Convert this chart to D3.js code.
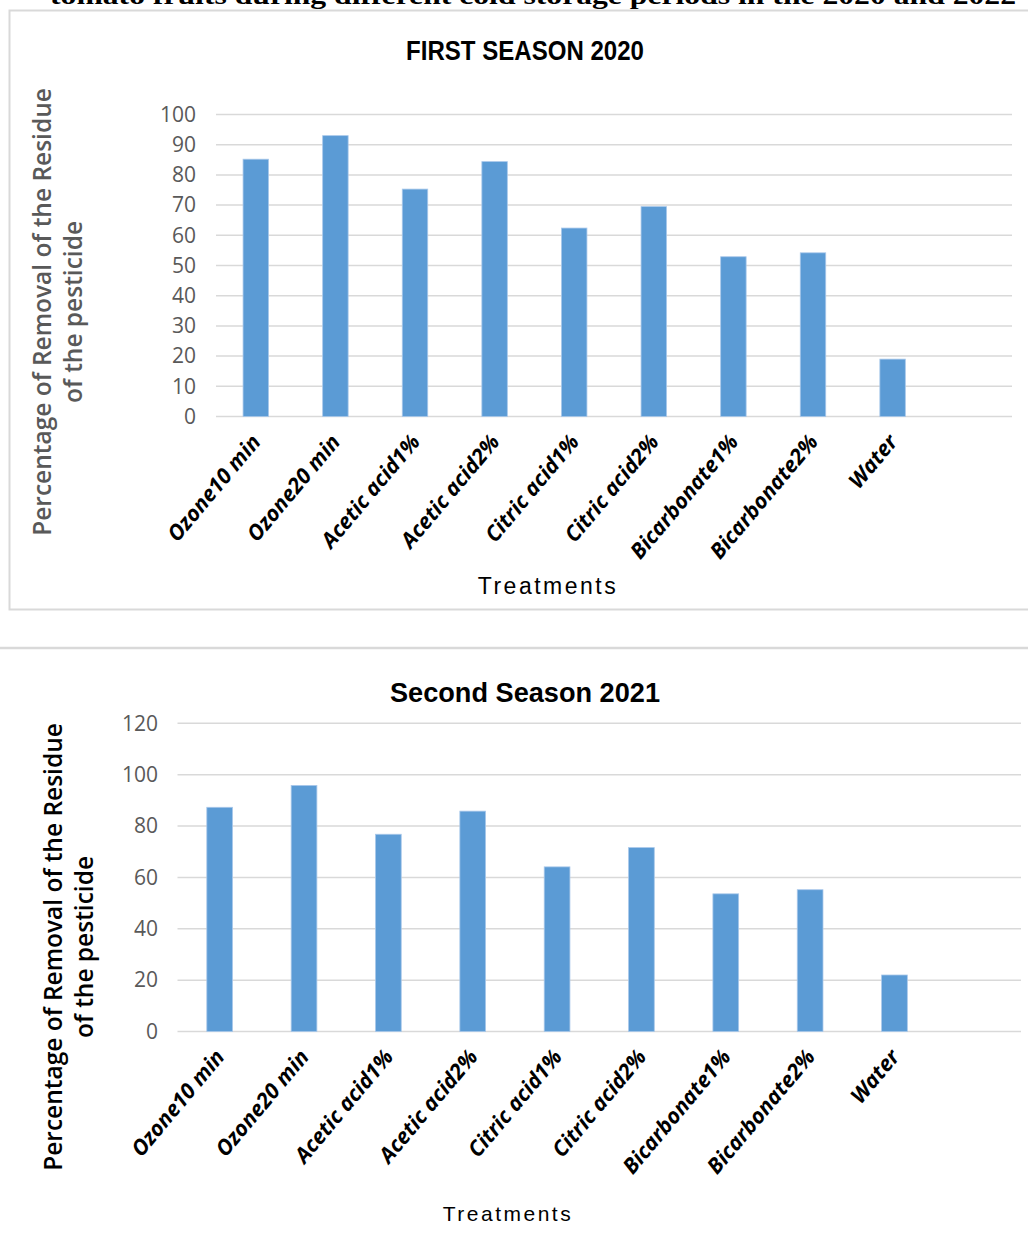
<!DOCTYPE html>
<html>
<head>
<meta charset="utf-8">
<script src="https://cdn.jsdelivr.net/npm/d3@7"></script>
<style>
  body { margin: 0; background: #fff; }
  svg { display: block; }
</style>
</head>
<body>
<svg id="chart" width="1028" height="1238"></svg>
<script>
// treatments (last empty slot is the blank category Excel left in the range)
const treatments = ["Ozone10 min", "Ozone20 min", "Acetic acid1%", "Acetic acid2%",
  "Citric acid1%", "Citric acid2%", "Bicarbonate1%", "Bicarbonate2%", "Water", ""];
const season2020 = [85.2, 93.0, 75.3, 84.4, 62.4, 69.5, 52.9, 54.2, 19.0];
const season2021 = [87.3, 95.8, 76.8, 85.8, 64.1, 71.6, 53.6, 55.2, 22.0];
const ticks2020 = [0, 10, 20, 30, 40, 50, 60, 70, 80, 90, 100];
const ticks2021 = [0, 20, 40, 60, 80, 100, 120];

const svg = d3.select("#chart");
const barColor = "#5b9bd5";
const gridColor = "#d9d9d9";

// caption cut off at top of the page
svg.append("text")
  .attr("x", 50).attr("y", 4)
  .attr("textLength", 966).attr("lengthAdjust", "spacingAndGlyphs")
  .style("font-family", "'Liberation Serif', 'Times New Roman', serif")
  .style("font-weight", "bold").style("font-size", "26px")
  .text("tomato fruits during different cold storage periods in the 2020 and 2022");

// frame around first chart + separator above second
svg.append("rect")
  .attr("x", 9.5).attr("y", 10.5).attr("width", 1030).attr("height", 599)
  .attr("fill", "none").attr("stroke", gridColor).attr("stroke-width", 2);
svg.append("line")
  .attr("x1", 0).attr("x2", 1028).attr("y1", 648).attr("y2", 648)
  .attr("stroke", gridColor).attr("stroke-width", 2.5);

function drawChart(cfg) {
  const g = svg.append("g");
  const x = d3.scaleBand().domain(treatments).range([cfg.left, cfg.right]);
  const y = d3.scaleLinear().domain([0, cfg.max]).range([cfg.bottom, cfg.top]);

  // gridlines
  g.selectAll("line.grid")
    .data(cfg.ticks)
    .join("line")
    .attr("class", "grid")
    .attr("x1", cfg.left).attr("x2", cfg.right)
    .attr("y1", d => y(d)).attr("y2", d => y(d))
    .attr("stroke", gridColor).attr("stroke-width", 1.5);

  // y axis labels
  const yAxis = d3.axisLeft(y).tickValues(cfg.ticks).tickSize(0).tickPadding(0);
  const ya = g.append("g")
    .attr("transform", `translate(${cfg.tickX},0)`)
    .call(yAxis);
  ya.select(".domain").remove();
  ya.selectAll("text")
    .attr("fill", "#595959")
    .style("font-family", "'Open Sans', sans-serif")
    .style("font-size", "21px");

  // bars
  const bw = x.bandwidth() * cfg.barFrac;
  g.selectAll("rect.bar")
    .data(cfg.values)
    .join("rect")
    .attr("class", "bar")
    .attr("x", (d, i) => x(treatments[i]) + (x.bandwidth() - bw) / 2)
    .attr("width", bw)
    .attr("y", d => y(d))
    .attr("height", d => y(0) - y(d))
    .attr("fill", barColor)
    .attr("stroke", "#a9c8ea").attr("stroke-width", 0.8);

  // category labels, rotated
  g.selectAll("text.cat")
    .data(treatments.filter(t => t !== ""))
    .join("text")
    .attr("class", "cat")
    .attr("text-anchor", "end")
    .attr("transform", d => `translate(${x(d) + x.bandwidth() / 2 + 6},${cfg.bottom + 26}) rotate(-50)`)
    .style("font-family", "'Open Sans', sans-serif")
    .style("font-weight", "bold").style("font-style", "italic")
    .style("font-size", "21.5px")
    .text(d => d);

  // title
  g.append("text")
    .attr("x", cfg.titleX).attr("y", cfg.titleY)
    .attr("text-anchor", "middle")
    .attr("textLength", cfg.titleW).attr("lengthAdjust", "spacingAndGlyphs")
    .style("font-family", "'Liberation Sans Narrow', 'Arial Narrow', sans-serif")
    .style("font-weight", "bold").style("font-size", "27px")
    .text(cfg.title);

  // x axis title
  g.append("text")
    .attr("x", cfg.xTitleX).attr("y", cfg.xTitleY)
    .attr("text-anchor", "middle")
    .style("font-family", "'Liberation Sans', Arial, sans-serif")
    .style("font-size", cfg.xTitleSize).style("letter-spacing", "2.5px")
    .text("Treatments");

  // y axis title, two lines
  const yt = g.append("text")
    .attr("transform", `translate(${cfg.yTitleX},${cfg.yTitleY}) rotate(-90)`)
    .attr("text-anchor", "middle")
    .attr("fill", cfg.yTitleColor)
    .style("font-family", "'Open Sans', sans-serif")
    .style("font-weight", "600").style("font-size", "24.5px");
  yt.append("tspan").attr("x", 0).attr("dy", 0).text("Percentage of Removal of the Residue");
  yt.append("tspan").attr("x", 0).attr("dy", 31).text("of the pesticide");
}

drawChart({
  values: season2020, ticks: ticks2020, max: 100,
  left: 216, right: 1012, top: 114.5, bottom: 416.5, barFrac: 0.32,
  tickX: 196, title: "FIRST SEASON 2020", titleX: 525, titleY: 60, titleW: 238,
  xTitleX: 548, xTitleY: 594, xTitleSize: "23px",
  yTitleX: 51, yTitleY: 312, yTitleColor: "#595959"
});

drawChart({
  values: season2021, ticks: ticks2021, max: 120,
  left: 177.5, right: 1021, top: 723.3, bottom: 1031.5, barFrac: 0.305,
  tickX: 158, title: "Second Season 2021", titleX: 525, titleY: 702, titleW: 270,
  xTitleX: 508, xTitleY: 1221, xTitleSize: "21px",
  yTitleX: 62, yTitleY: 947, yTitleColor: "#000"
});
</script>
</body>
</html>
